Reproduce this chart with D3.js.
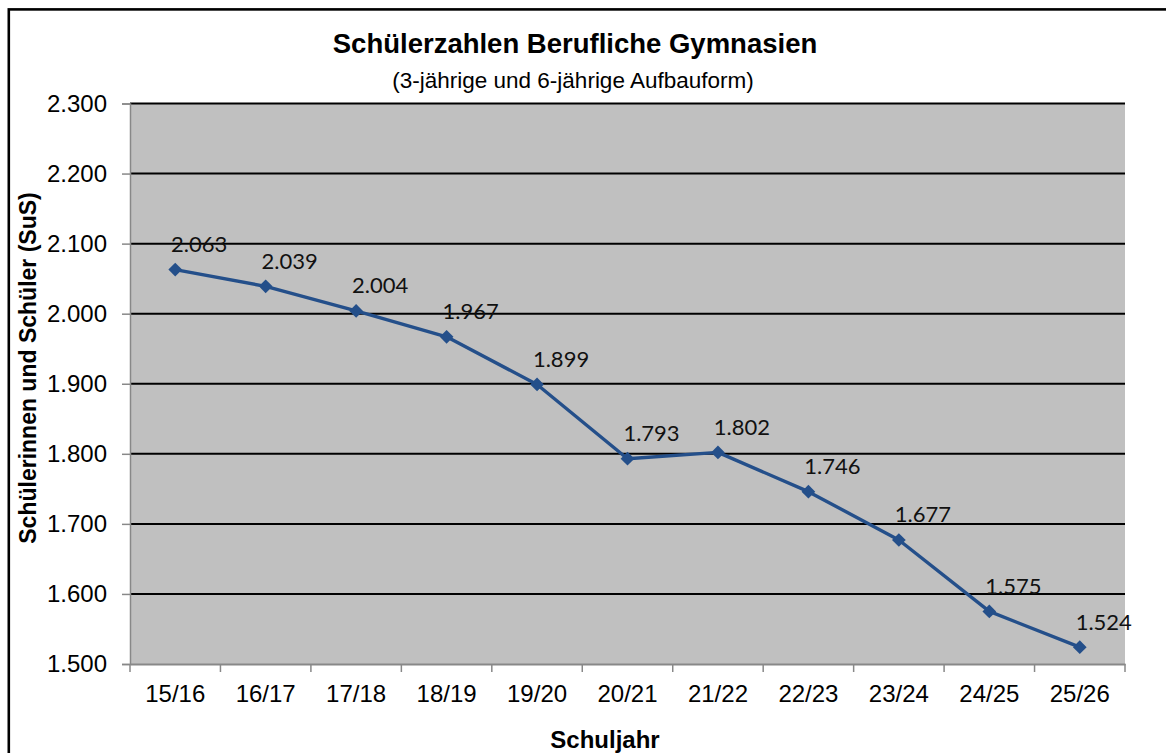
<!DOCTYPE html>
<html><head><meta charset="utf-8">
<script src="https://cdn.jsdelivr.net/npm/d3@7"></script>
<style>body{margin:0;background:#fff;}svg{display:block;}</style>
</head><body>
<svg id="c" width="1166" height="753"></svg>
<script>
const categories = ["15/16","16/17","17/18","18/19","19/20","20/21","21/22","22/23","23/24","24/25","25/26"];
const values = [2063,2039,2004,1967,1899,1793,1802,1746,1677,1575,1524];
const yTicks = [1500,1600,1700,1800,1900,2000,2100,2200,2300];
const title = "Schülerzahlen Berufliche Gymnasien";
const subtitle = "(3-jährige und 6-jährige Aufbauform)";
const yTitle = "Schülerinnen und Schüler (SuS)";
const xTitle = "Schuljahr";

const svg = d3.select("#c");
const W = 1166, H = 753;
const m = {left:130, right:1125, top:103.5, bottom:664};
const fmt = v => d3.format(",")(v).replace(/,/g, ".");
const arial = "'Liberation Sans', Arial, sans-serif";

svg.append("rect").attr("x",0).attr("y",0).attr("width",W).attr("height",H).attr("fill","#fff");
svg.append("rect").attr("x",8.8).attr("y",9.4).attr("width",W+20).attr("height",H+20)
  .attr("fill","none").attr("stroke","#000").attr("stroke-width",2.6);

const x = d3.scaleBand().domain(categories).range([m.left, m.right]).paddingInner(0).paddingOuter(0);
const y = d3.scaleLinear().domain([1500,2300]).range([m.bottom, m.top]);

svg.append("rect").attr("x",m.left).attr("y",m.top).attr("width",m.right-m.left).attr("height",m.bottom-m.top).attr("fill","#c0c0c0");

// gridlines
svg.append("g").selectAll("line").data(yTicks.filter(t=>t>1500)).join("line")
  .attr("x1",m.left).attr("x2",m.right).attr("y1",d=>y(d)).attr("y2",d=>y(d))
  .attr("stroke","#000").attr("stroke-width",2);

// y axis
const ya = svg.append("g").attr("transform",`translate(${m.left},0)`)
  .call(d3.axisLeft(y).tickValues(yTicks).tickFormat(fmt).tickSize(8).tickPadding(15));
ya.select(".domain").attr("stroke","#888").attr("stroke-width",1.5);
ya.selectAll(".tick line").attr("stroke","#888").attr("stroke-width",1.5);
ya.selectAll("text").attr("font-family",arial).attr("font-size",24).attr("fill","#000");

// x axis
const xa = svg.append("g").attr("transform",`translate(0,${m.bottom})`)
  .call(d3.axisBottom(x).tickSize(0).tickPadding(21));
xa.select(".domain").attr("stroke","#888").attr("stroke-width",2);
xa.selectAll("text").attr("font-family",arial).attr("font-size",24).attr("fill","#000");
const bounds = categories.map(c=>x(c)).concat([m.right]);
svg.append("g").selectAll("line").data(bounds).join("line")
  .attr("x1",d=>d).attr("x2",d=>d).attr("y1",m.bottom).attr("y2",m.bottom+8)
  .attr("stroke","#888").attr("stroke-width",1.5);

// line
const cx = c => x(c) + x.bandwidth()/2;
const line = d3.line().x((d,i)=>cx(categories[i])).y(d=>y(d));
svg.append("path").datum(values).attr("d",line).attr("fill","none")
  .attr("stroke","#244f8a").attr("stroke-width",3.4).attr("stroke-linejoin","round");
svg.append("g").selectAll("path").data(values).join("path")
  .attr("transform",(d,i)=>`translate(${cx(categories[i])},${y(d)})`)
  .attr("d",d3.symbol(d3.symbolDiamond2,120)())
  .attr("fill","#244f8a");

// data labels
svg.append("g").selectAll("text").data(values).join("text")
  .attr("x",(d,i)=>cx(categories[i])+24).attr("y",d=>y(d)-17.5)
  .attr("text-anchor","middle")
  .attr("font-family","Lato, 'Open Sans', sans-serif").attr("font-size",22).attr("fill","#111")
  .text(fmt);

// titles
svg.append("text").attr("x",575).attr("y",53).attr("text-anchor","middle")
  .attr("font-family",arial).attr("font-weight","bold").attr("font-size",27.5)
  .text(title);
svg.append("text").attr("x",573).attr("y",88).attr("text-anchor","middle")
  .attr("font-family",arial).attr("font-size",22.5)
  .text(subtitle);
svg.append("text").attr("transform",`translate(36,368) rotate(-90)`).attr("text-anchor","middle")
  .attr("font-family",arial).attr("font-weight","bold").attr("font-size",23)
  .text(yTitle);
svg.append("text").attr("x",605).attr("y",748).attr("text-anchor","middle")
  .attr("font-family",arial).attr("font-weight","bold").attr("font-size",24)
  .text(xTitle);
</script>
</body></html>
